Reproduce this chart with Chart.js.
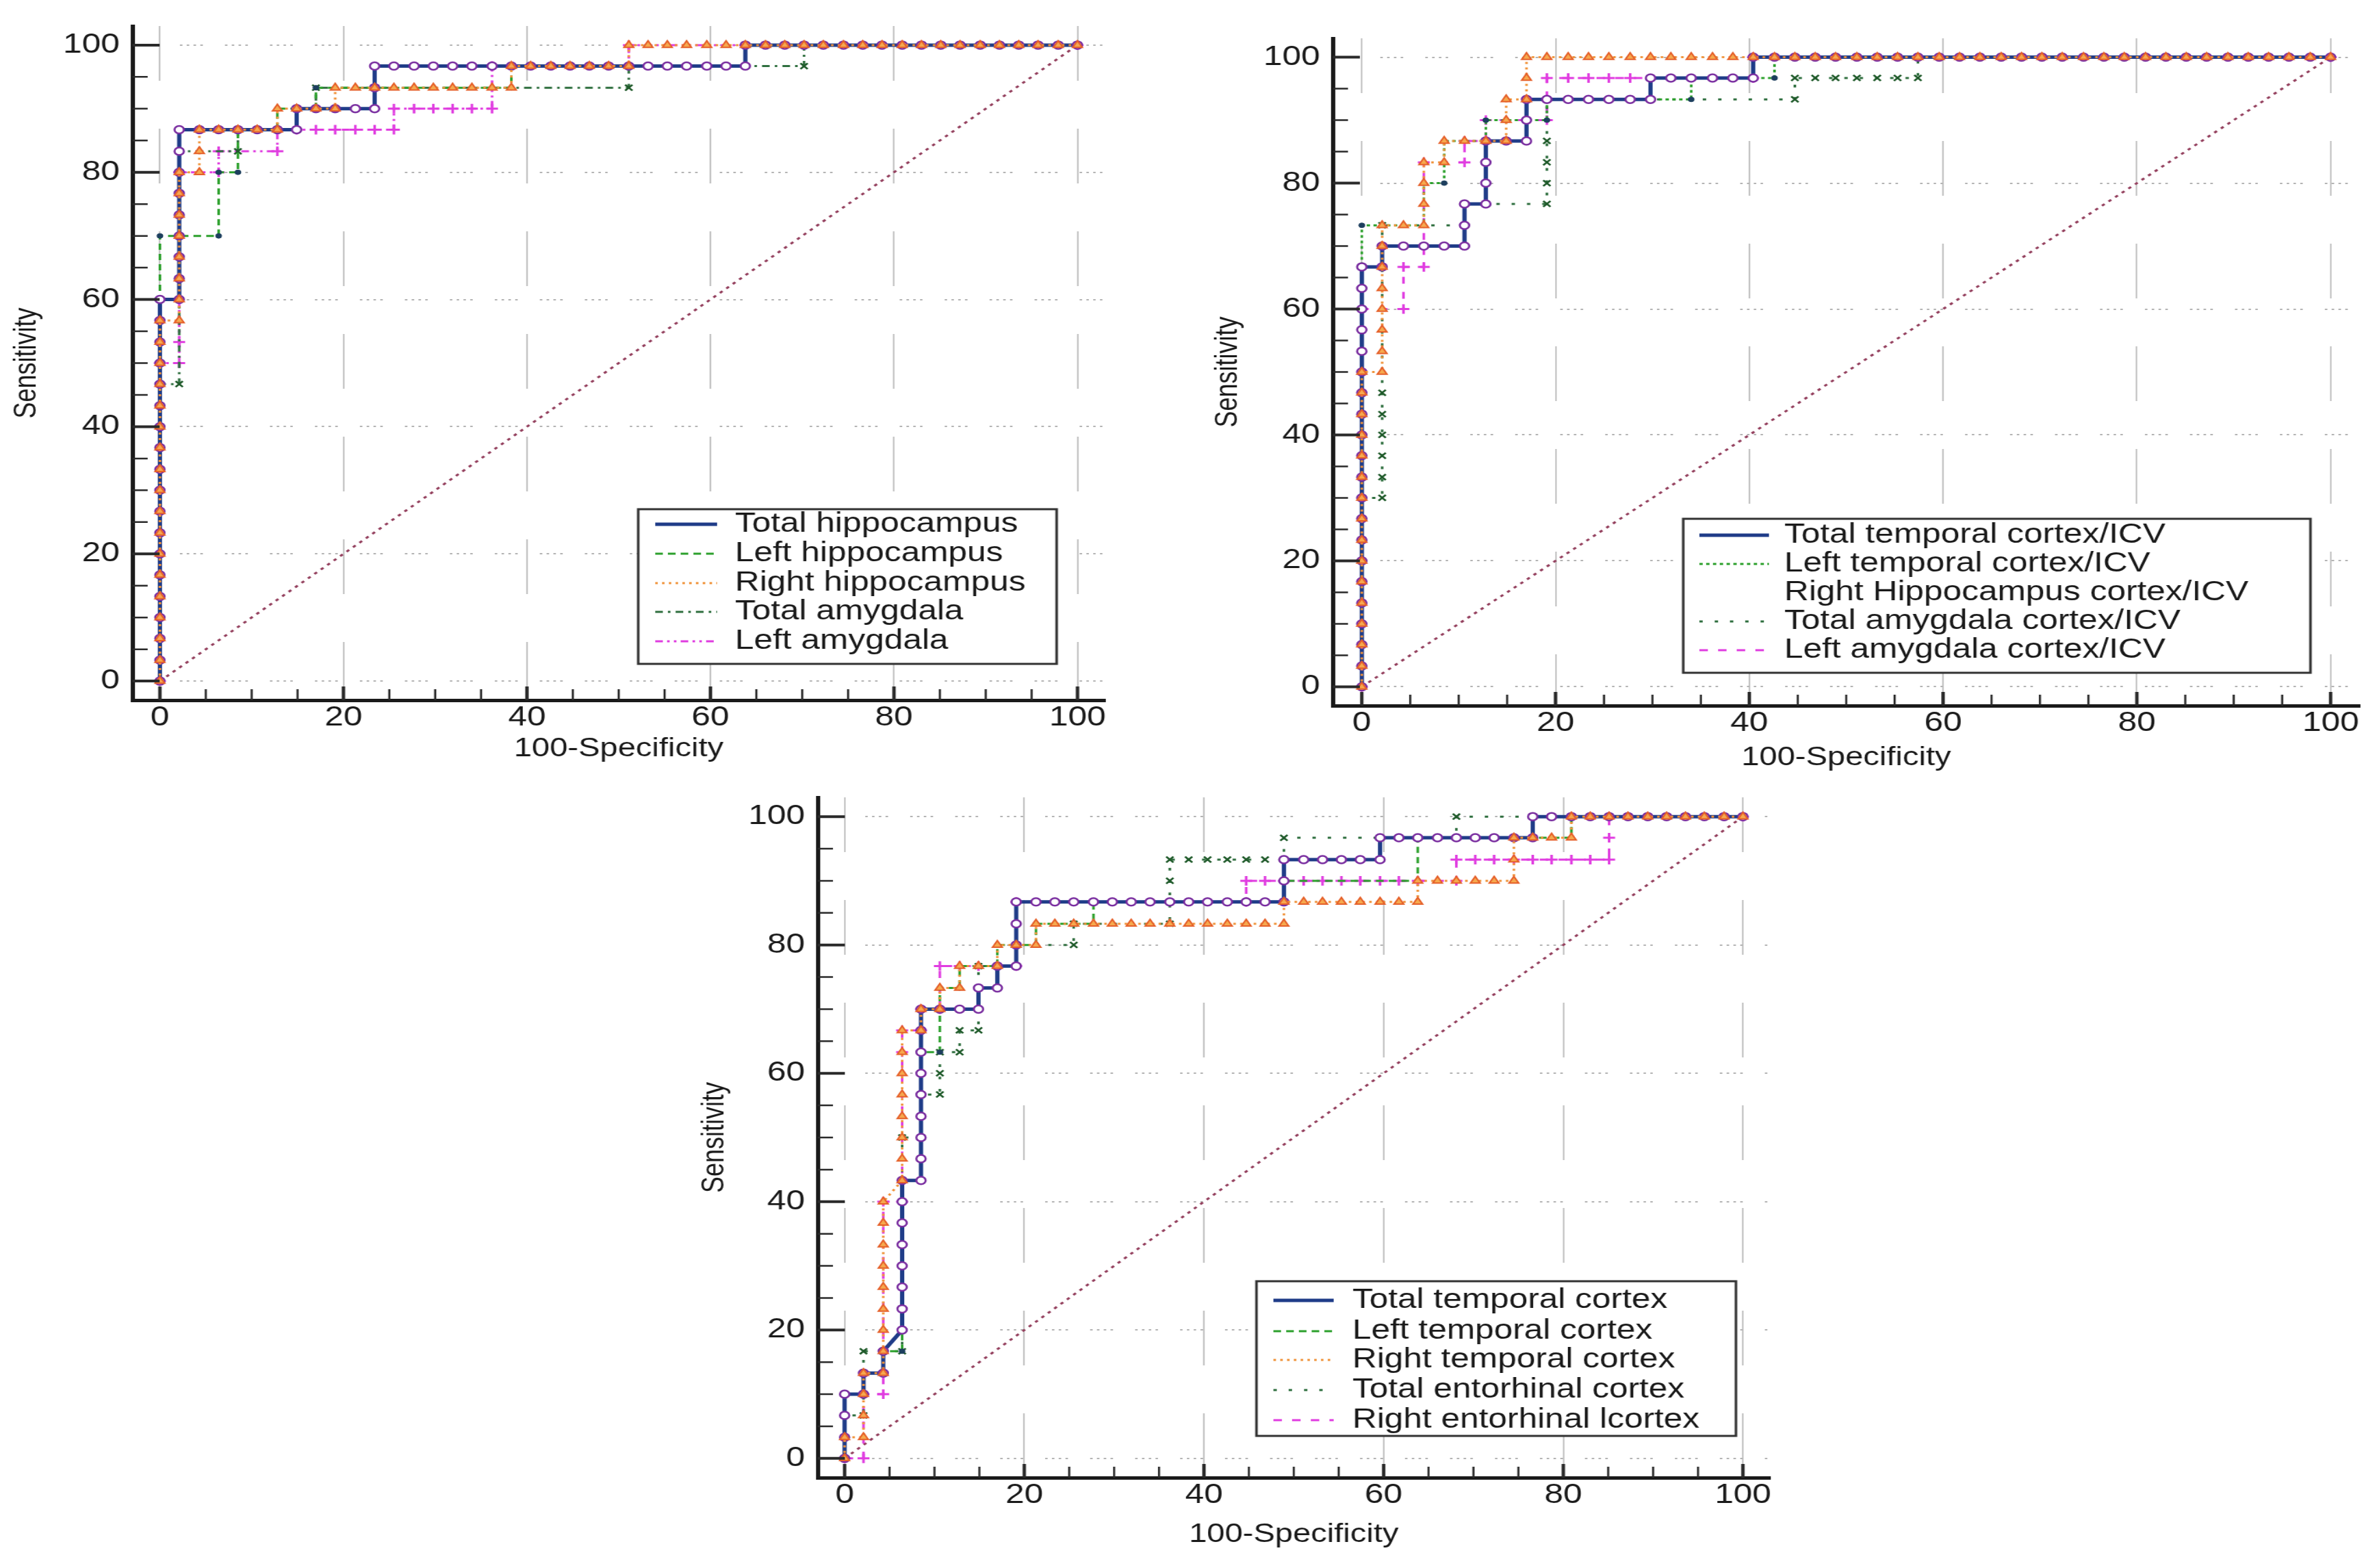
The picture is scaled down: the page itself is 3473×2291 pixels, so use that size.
<!DOCTYPE html>
<html>
<head>
<meta charset="utf-8">
<script src="https://cdn.jsdelivr.net/npm/chart.js@4.4.0/dist/chart.umd.min.js"></script>
<style>
  html, body { margin: 0; padding: 0; background: #fff; overflow: hidden; }
  body { width: 3473px; height: 2291px; position: relative; }
  .wrap { position: absolute; transform: scaleX(1.24); transform-origin: 0 0; }
  canvas { display: block; }
</style>
</head>
<body>
<div class="wrap" style="left:0px;top:0px"><canvas id="roc1" width="1331" height="1130"></canvas></div>
<div class="wrap" style="left:1760px;top:0px"><canvas id="roc2" width="1381" height="1130"></canvas></div>
<div class="wrap" style="left:1000px;top:1130px"><canvas id="roc3" width="1306" height="1161"></canvas></div>
<script>
// axis ticks
const majorTicks = [0, 20, 40, 60, 80, 100];
const minorTicks = [5, 10, 15, 25, 30, 35, 45, 50, 55, 65, 70, 75, 85, 90, 95];
const diagonal = [[0, 0], [100, 100]];

// chart 1 - hippocampus / amygdala  [100-specificity, sensitivity]
const labels1 = ['Total hippocampus', 'Left hippocampus', 'Right hippocampus', 'Total amygdala', 'Left amygdala'];
const hipTotal = [[0,0],[0,3.3],[0,6.7],[0,10],[0,13.3],[0,16.7],[0,20],[0,23.3],[0,26.7],[0,30],[0,33.3],[0,36.7],[0,40],[0,43.3],[0,46.7],[0,50],[0,53.3],[0,56.7],[0,60],
  [2.1,60],[2.1,63.3],[2.1,66.7],[2.1,70],[2.1,73.3],[2.1,76.7],[2.1,80],[2.1,83.3],[2.1,86.7],[4.3,86.7],[6.4,86.7],[8.5,86.7],[10.6,86.7],[12.8,86.7],[14.9,86.7],
  [14.9,90],[17,90],[19.1,90],[21.3,90],[23.4,90],[23.4,93.3],[23.4,96.7],[25.5,96.7],[27.7,96.7],[29.8,96.7],[31.9,96.7],[34,96.7],[36.2,96.7],[38.3,96.7],[40.4,96.7],
  [42.6,96.7],[44.7,96.7],[46.8,96.7],[48.9,96.7],[51.1,96.7],[53.2,96.7],[55.3,96.7],[57.4,96.7],[59.6,96.7],[61.7,96.7],[63.8,96.7],[63.8,100],[66,100],[68.1,100],
  [70.2,100],[72.3,100],[74.5,100],[76.6,100],[78.7,100],[80.9,100],[83,100],[85.1,100],[87.2,100],[89.4,100],[91.5,100],[93.6,100],[95.7,100],[97.9,100],[100,100]];
const hipLeft = [[0,0],[0,70],[6.4,70],[6.4,80],[8.5,80],[8.5,86.7],[12.8,86.7],[12.8,90],[17,90],[17,93.3],[38.3,93.3],[38.3,96.7],[63.8,96.7],[63.8,100],[100,100]];
const hipRight = [[0,0],[0,3.3],[0,6.7],[0,10],[0,13.3],[0,16.7],[0,20],[0,23.3],[0,26.7],[0,30],[0,33.3],[0,36.7],[0,40],[0,43.3],[0,46.7],[0,50],[0,53.3],[0,56.7],
  [2.1,56.7],[2.1,60],[2.1,63.3],[2.1,66.7],[2.1,70],[2.1,73.3],[2.1,76.7],[2.1,80],[4.3,80],[4.3,83.3],[4.3,86.7],[6.4,86.7],[8.5,86.7],[10.6,86.7],[12.8,86.7],
  [12.8,90],[14.9,90],[17,90],[19.1,90],[19.1,93.3],[21.3,93.3],[23.4,93.3],[25.5,93.3],[27.7,93.3],[29.8,93.3],[31.9,93.3],[34,93.3],[36.2,93.3],[38.3,93.3],
  [38.3,96.7],[40.4,96.7],[42.6,96.7],[44.7,96.7],[46.8,96.7],[48.9,96.7],[51.1,96.7],[51.1,100],[53.2,100],[55.3,100],[57.4,100],[59.6,100],[61.7,100],[63.8,100],
  [66,100],[68.1,100],[70.2,100],[72.3,100],[74.5,100],[76.6,100],[78.7,100],[80.9,100],[83,100],[85.1,100],[87.2,100],[89.4,100],[91.5,100],[93.6,100],[95.7,100],[97.9,100],[100,100]];
const amyTotal = [[0,0],[0,46.7],[2.1,46.7],[2.1,83.3],[8.5,83.3],[8.5,86.7],[14.9,86.7],[14.9,90],[17,90],[17,93.3],[51.1,93.3],[51.1,96.7],[70.2,96.7],[70.2,100],[100,100]];
const amyLeft = [[0,0],[0,50],[2.1,50],[2.1,53.3],[2.1,80],[6.4,80],[6.4,83.3],[12.8,83.3],[12.8,86.7],[14.9,86.7],[17,86.7],[19.1,86.7],[21.3,86.7],[23.4,86.7],[25.5,86.7],
  [25.5,90],[27.7,90],[29.8,90],[31.9,90],[34,90],[36.2,90],[36.2,96.7],[51.1,96.7],[51.1,100],[100,100]];

// chart 2 - ratios to ICV
const labels2 = ['Total temporal cortex/ICV', 'Left temporal cortex/ICV', 'Right Hippocampus cortex/ICV', 'Total amygdala cortex/ICV', 'Left amygdala cortex/ICV'];
const icvTotalTemp = [[0,0],[0,3.3],[0,6.7],[0,10],[0,13.3],[0,16.7],[0,20],[0,23.3],[0,26.7],[0,30],[0,33.3],[0,36.7],[0,40],[0,43.3],[0,46.7],[0,50],[0,53.3],[0,56.7],[0,60],[0,63.3],[0,66.7],
  [2.1,66.7],[2.1,70],[4.3,70],[6.4,70],[8.5,70],[10.6,70],[10.6,73.3],[10.6,76.7],[12.8,76.7],[12.8,80],[12.8,83.3],[12.8,86.7],[14.9,86.7],[17,86.7],[17,90],[17,93.3],
  [19.1,93.3],[21.3,93.3],[23.4,93.3],[25.5,93.3],[27.7,93.3],[29.8,93.3],[29.8,96.7],[31.9,96.7],[34,96.7],[36.2,96.7],[38.3,96.7],[40.4,96.7],[40.4,100],
  [42.6,100],[44.7,100],[46.8,100],[48.9,100],[51.1,100],[53.2,100],[55.3,100],[57.4,100],[59.6,100],[61.7,100],[63.8,100],[66,100],[68.1,100],[70.2,100],[72.3,100],
  [74.5,100],[76.6,100],[78.7,100],[80.9,100],[83,100],[85.1,100],[87.2,100],[89.4,100],[91.5,100],[93.6,100],[95.7,100],[97.9,100],[100,100]];
const icvLeftTemp = [[0,0],[0,73.3],[6.4,73.3],[6.4,80],[8.5,80],[8.5,86.7],[12.8,86.7],[12.8,90],[19.1,90],[19.1,93.3],[34,93.3],[34,96.7],[42.6,96.7],[42.6,100],[100,100]];
const icvRightHip = [[0,0],[0,3.3],[0,6.7],[0,10],[0,13.3],[0,16.7],[0,20],[0,23.3],[0,26.7],[0,30],[0,33.3],[0,36.7],[0,40],[0,43.3],[0,46.7],[0,50],
  [2.1,50],[2.1,53.3],[2.1,56.7],[2.1,60],[2.1,63.3],[2.1,66.7],[2.1,70],[2.1,73.3],[4.3,73.3],[6.4,73.3],[6.4,76.7],[6.4,80],[6.4,83.3],[8.5,83.3],[8.5,86.7],
  [10.6,86.7],[12.8,86.7],[14.9,86.7],[14.9,90],[14.9,93.3],[17,93.3],[17,96.7],[17,100],[19.1,100],[21.3,100],[23.4,100],[25.5,100],[27.7,100],[29.8,100],[31.9,100],
  [34,100],[36.2,100],[38.3,100],[40.4,100],[42.6,100],[44.7,100],[46.8,100],[48.9,100],[51.1,100],[53.2,100],[55.3,100],[57.4,100],[59.6,100],[61.7,100],[63.8,100],
  [66,100],[68.1,100],[70.2,100],[72.3,100],[74.5,100],[76.6,100],[78.7,100],[80.9,100],[83,100],[85.1,100],[87.2,100],[89.4,100],[91.5,100],[93.6,100],[95.7,100],[97.9,100],[100,100]];
const icvTotalAmy = [[0,0],[0,30],[2.1,30],[2.1,33.3],[2.1,36.7],[2.1,40],[2.1,43.3],[2.1,46.7],[2.1,73.3],[10.6,73.3],[10.6,76.7],[19.1,76.7],[19.1,80],[19.1,83.3],[19.1,86.7],[19.1,93.3],
  [44.7,93.3],[44.7,96.7],[46.8,96.7],[48.9,96.7],[51.1,96.7],[53.2,96.7],[55.3,96.7],[57.4,96.7],[57.4,100],[100,100]];
const icvLeftAmy = [[0,0],[0,60],[4.3,60],[4.3,66.7],[6.4,66.7],[6.4,83.3],[10.6,83.3],[10.6,86.7],[12.8,86.7],[12.8,90],[19.1,90],[19.1,96.7],[21.3,96.7],[23.4,96.7],[25.5,96.7],
  [27.7,96.7],[40.4,96.7],[40.4,100],[100,100]];

// chart 3 - temporal / entorhinal cortex
const labels3 = ['Total temporal cortex', 'Left temporal cortex', 'Right temporal cortex', 'Total entorhinal cortex', 'Right entorhinal lcortex'];
const tempTotal = [[0,0],[0,3.3],[0,6.7],[0,10],[2.1,10],[2.1,13.3],[4.3,13.3],[4.3,16.7],[6.4,20],[6.4,23.3],[6.4,26.7],[6.4,30],[6.4,33.3],[6.4,36.7],[6.4,40],[6.4,43.3],
  [8.5,43.3],[8.5,46.7],[8.5,50],[8.5,53.3],[8.5,56.7],[8.5,60],[8.5,63.3],[8.5,66.7],[8.5,70],[10.6,70],[12.8,70],[14.9,70],[14.9,73.3],[17,73.3],[17,76.7],[19.1,76.7],
  [19.1,80],[19.1,83.3],[19.1,86.7],[21.3,86.7],[23.4,86.7],[25.5,86.7],[27.7,86.7],[29.8,86.7],[31.9,86.7],[34,86.7],[36.2,86.7],[38.3,86.7],[40.4,86.7],[42.6,86.7],
  [44.7,86.7],[46.8,86.7],[48.9,86.7],[48.9,90],[48.9,93.3],[51.1,93.3],[53.2,93.3],[55.3,93.3],[57.4,93.3],[59.6,93.3],[59.6,96.7],[61.7,96.7],[63.8,96.7],[66,96.7],
  [68.1,96.7],[70.2,96.7],[72.3,96.7],[74.5,96.7],[76.6,96.7],[76.6,100],[78.7,100],[80.9,100],[83,100],[85.1,100],[87.2,100],[89.4,100],[91.5,100],[93.6,100],[95.7,100],[97.9,100],[100,100]];
const tempLeft = [[0,0],[0,10],[2.1,10],[2.1,13.3],[4.3,13.3],[4.3,16.7],[6.4,16.7],[6.4,43.3],[8.5,43.3],[8.5,63.3],[10.6,63.3],[10.6,73.3],[12.8,73.3],[12.8,76.7],[17,76.7],[17,80],[21.3,80],
  [21.3,83.3],[27.7,83.3],[27.7,86.7],[48.9,86.7],[48.9,90],[63.8,90],[63.8,96.7],[80.9,96.7],[80.9,100],[100,100]];
const tempRight = [[0,0],[0,3.3],[2.1,3.3],[2.1,6.7],[2.1,10],[2.1,13.3],[4.3,13.3],[4.3,16.7],[4.3,20],[4.3,23.3],[4.3,26.7],[4.3,30],[4.3,33.3],[4.3,36.7],[4.3,40],
  [6.4,43.3],[6.4,46.7],[6.4,50],[6.4,53.3],[6.4,56.7],[6.4,60],[6.4,63.3],[6.4,66.7],[8.5,66.7],[8.5,70],[10.6,70],[10.6,73.3],[12.8,73.3],[12.8,76.7],[14.9,76.7],
  [17,76.7],[17,80],[19.1,80],[21.3,80],[21.3,83.3],[23.4,83.3],[25.5,83.3],[27.7,83.3],[29.8,83.3],[31.9,83.3],[34,83.3],[36.2,83.3],[38.3,83.3],[40.4,83.3],[42.6,83.3],
  [44.7,83.3],[46.8,83.3],[48.9,83.3],[48.9,86.7],[51.1,86.7],[53.2,86.7],[55.3,86.7],[57.4,86.7],[59.6,86.7],[61.7,86.7],[63.8,86.7],[63.8,90],[66,90],[68.1,90],[70.2,90],
  [72.3,90],[74.5,90],[74.5,93.3],[74.5,96.7],[76.6,96.7],[78.7,96.7],[80.9,96.7],[80.9,100],[83,100],[85.1,100],[87.2,100],[89.4,100],[91.5,100],[93.6,100],[95.7,100],[97.9,100],[100,100]];
const entTotal = [[0,0],[0,6.7],[2.1,6.7],[2.1,16.7],[6.4,16.7],[6.4,50],[8.5,50],[8.5,56.7],[10.6,56.7],[10.6,60],[10.6,63.3],[12.8,63.3],[12.8,66.7],[14.9,66.7],[14.9,76.7],[19.1,76.7],
  [19.1,80],[25.5,80],[25.5,83.3],[36.2,83.3],[36.2,90],[36.2,93.3],[38.3,93.3],[40.4,93.3],[42.6,93.3],[44.7,93.3],[46.8,93.3],[48.9,93.3],[48.9,96.7],[68.1,96.7],[68.1,100],[100,100]];
const entRight = [[0,0],[2.1,0],[2.1,10],[4.3,10],[4.3,40],[6.4,40],[6.4,63.3],[6.4,66.7],[8.5,66.7],[8.5,70],[10.6,70],[10.6,76.7],[12.8,76.7],[14.9,76.7],[19.1,76.7],[19.1,86.7],
  [44.7,86.7],[44.7,90],[46.8,90],[48.9,90],[51.1,90],[53.2,90],[55.3,90],[57.4,90],[59.6,90],[61.7,90],[63.8,90],[68.1,90],[68.1,93.3],[70.2,93.3],[72.3,93.3],[74.5,93.3],
  [76.6,93.3],[78.7,93.3],[80.9,93.3],[83,93.3],[85.1,93.3],[85.1,96.7],[85.1,100],[100,100]];

const FONT = '"Liberation Sans", Arial, sans-serif';

// line / marker looks, same order as the legends
const sTotal = {borderColor: '#1f3c88', borderWidth: 5, borderDash: [], pointStyle: 'circle', pointRadius: 5.5,
  pointBackgroundColor: '#ffffff', pointBorderColor: '#7a2ea0', pointBorderWidth: 2.5, order: 1};
const sLeft = {borderColor: '#2ca02c', borderWidth: 3, borderDash: [9, 6], pointStyle: 'circle', pointRadius: 3.5,
  pointBackgroundColor: '#1d3f5e', pointBorderColor: '#1d3f5e', pointBorderWidth: 1, order: 2};
const sLeftDot = Object.assign({}, sLeft, {borderDash: [4, 4]});
const sRight = {borderColor: '#f0933a', borderWidth: 3, borderDash: [3, 5], pointStyle: 'triangle', pointRadius: 6.5,
  pointBackgroundColor: '#f6a94e', pointBorderColor: '#e5602a', pointBorderWidth: 2, order: 0};
const sTotAmy = {borderColor: '#2f6f3f', borderWidth: 3, borderDash: [9, 6, 3, 6], pointStyle: 'crossRot', pointRadius: 6,
  pointBackgroundColor: '#1f5a2a', pointBorderColor: '#1f5a2a', pointBorderWidth: 2.5, order: 2};
const sTotAmyDot = Object.assign({}, sTotAmy, {borderDash: [4, 14]});
const sLeftAmy = {borderColor: '#e03ce0', borderWidth: 3, borderDash: [9, 5, 3, 5, 3, 5], pointStyle: 'cross', pointRadius: 7,
  pointBackgroundColor: '#e03ce0', pointBorderColor: '#e03ce0', pointBorderWidth: 3, order: 2};
const sLeftAmyDash = Object.assign({}, sLeftAmy, {borderDash: [10, 12]});

// inner tick marks on both axes + boxed legend inside the plot
const rocDecor = {
  id: 'rocDecor',
  afterDraw(chart, args, o) {
    const ctx = chart.ctx;
    const area = chart.chartArea;
    const sx = chart.scales.x;
    const sy = chart.scales.y;

    ctx.save();
    ctx.setLineDash([]);
    ctx.strokeStyle = '#2a2a2a';
    const xMarks = (list, w, len) => {
      ctx.lineWidth = w;
      ctx.beginPath();
      for (const v of list) {
        const px = sx.getPixelForValue(v);
        ctx.moveTo(px, area.bottom);
        ctx.lineTo(px, area.bottom - len);
      }
      ctx.stroke();
    };
    const yMarks = (list, w, len) => {
      ctx.lineWidth = w;
      ctx.beginPath();
      for (const v of list) {
        const py = sy.getPixelForValue(v);
        ctx.moveTo(area.left, py);
        ctx.lineTo(area.left + len, py);
      }
      ctx.stroke();
    };
    xMarks(minorTicks, 2.5, 16);
    xMarks(majorTicks, 4, 20);
    yMarks(minorTicks, 2.5, 18);
    yMarks(majorTicks, 4, 32);
    ctx.restore();

    if (!o.box) return;
    ctx.save();
    ctx.fillStyle = '#ffffff';
    ctx.fillRect(o.box[0], o.box[1], o.box[2], o.box[3]);
    ctx.lineWidth = 3;
    ctx.strokeStyle = '#333333';
    ctx.strokeRect(o.box[0], o.box[1], o.box[2], o.box[3]);
    ctx.font = '40px ' + FONT;
    ctx.textBaseline = 'middle';
    chart.data.datasets.forEach((ds, i) => {
      if (ds.inLegend === false) return;
      const yy = o.rows[i];
      if (ds.legendLine !== false) {
        ctx.beginPath();
        ctx.setLineDash(ds.borderDash || []);
        ctx.lineWidth = ds.borderWidth;
        ctx.strokeStyle = ds.borderColor;
        ctx.moveTo(o.line[0], yy);
        ctx.lineTo(o.line[1], yy);
        ctx.stroke();
      }
      ctx.setLineDash([]);
      ctx.fillStyle = '#1a1a1a';
      ctx.fillText(ds.label, o.textX, yy);
    });
    ctx.restore();
  }
};

function rocChart(id, labels, series, styles, L) {
  const datasets = series.map((pts, i) => Object.assign({
    label: labels[i],
    data: pts.map(p => ({x: p[0], y: p[1]})),
    fill: false, tension: 0
  }, styles[i]));
  if (L.noSample !== undefined) datasets[L.noSample].legendLine = false;
  datasets.push({
    label: '', inLegend: false, order: 3,
    data: diagonal.map(p => ({x: p[0], y: p[1]})),
    borderColor: '#94405e', borderWidth: 3, borderDash: [4, 6], pointRadius: 0, fill: false
  });
  const tickFont = {family: FONT, size: 40, lineHeight: 1};
  return new Chart(document.getElementById(id), {
    type: 'line',
    data: {datasets: datasets},
    plugins: [rocDecor],
    options: {
      responsive: false,
      animation: false,
      devicePixelRatio: 1,
      layout: {padding: {left: 0, right: L.padRight, top: L.padTop, bottom: 0}},
      plugins: {
        legend: {display: false},
        tooltip: {enabled: false},
        rocDecor: {box: L.box, rows: L.rows, line: L.line, textX: L.textX}
      },
      scales: {
        x: {
          type: 'linear', min: -3, max: 103,
          afterBuildTicks: s => { s.ticks = majorTicks.map(v => ({value: v})); },
          afterFit: s => { s.height = L.xH; },
          ticks: {font: tickFont, color: '#1a1a1a', padding: 6, maxRotation: 0},
          grid: {color: '#c6c6c6', lineWidth: 2, drawTicks: false},
          border: {color: '#1a1a1a', width: 5, dash: [80, 70]},
          title: {display: true, text: '100-Specificity', color: '#1a1a1a',
            font: {family: FONT, size: 38}, padding: {top: 0, bottom: L.xTitlePad}}
        },
        y: {
          type: 'linear', min: -3, max: 103,
          afterBuildTicks: s => { s.ticks = majorTicks.map(v => ({value: v})); },
          afterFit: s => { s.width = L.yW; },
          ticks: {font: tickFont, color: '#1a1a1a', padding: 15},
          grid: {color: '#b4b4b4', lineWidth: 2, drawTicks: false},
          border: {color: '#1a1a1a', width: 5, dash: [3, 5, 3, 5, 3, 5, 3, 26]},
          title: {display: true, text: 'Sensitivity', color: '#1a1a1a',
            font: {family: FONT, size: 36}, padding: {top: L.yTitlePad, bottom: 0}}
        }
      }
    }
  });
}

rocChart('roc1', labels1, [hipTotal, hipLeft, hipRight, amyTotal, amyLeft],
  [sTotal, sLeft, sRight, sTotAmy, sLeftAmy],
  {padRight: 29, padTop: 38, xH: 107, yW: 156, xTitlePad: 13, yTitlePad: 10,
   box: [752, 744, 493, 226], rows: [766, 809, 852, 894, 937], line: [772, 845], textX: 866});

rocChart('roc2', labels2, [icvTotalTemp, icvLeftTemp, icvRightHip, icvTotalAmy, icvLeftAmy],
  [sTotal, sLeftDot, sRight, sTotAmyDot, sLeftAmyDash],
  {padRight: 20, padTop: 56, xH: 99, yW: 151, xTitlePad: 0, yTitlePad: 6, noSample: 2,
   box: [564, 758, 739, 225], rows: [782, 824, 866, 908, 950], line: [583, 665], textX: 683});

rocChart('roc3', labels3, [tempTotal, tempLeft, tempRight, entTotal, entRight],
  [sTotal, sLeft, sRight, sTotAmyDot, sLeftAmyDash],
  {padRight: 27, padTop: 19, xH: 132, yW: 157, xTitlePad: 26, yTitlePad: 14,
   box: [674, 742, 565, 226], rows: [770, 815, 857, 901, 945], line: [694, 765], textX: 787});
</script>
</body>
</html>
